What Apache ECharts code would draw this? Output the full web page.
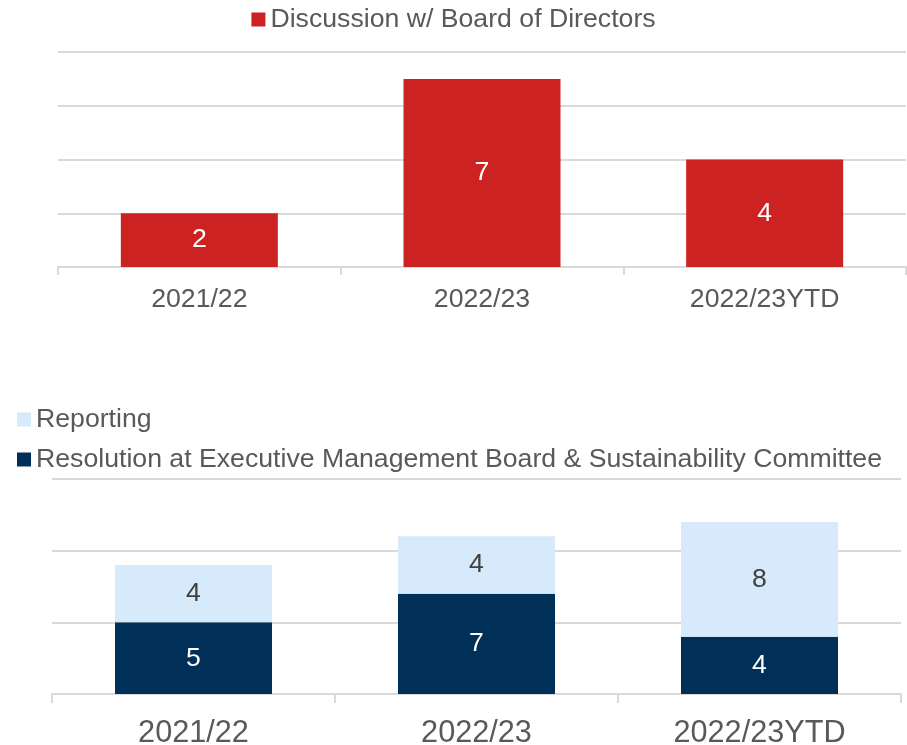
<!DOCTYPE html>
<html>
<head>
<meta charset="utf-8">
<script src="https://cdn.jsdelivr.net/npm/echarts@6/dist/echarts.min.js"></script>
<style>
  html, body { margin: 0; padding: 0; background: #fff; }
  #chart { width: 907px; height: 745px; }
</style>
</head>
<body>
<div id="chart"></div>
<script>
// Categories shared by both panels
const categories = ['2021/22', '2022/23', '2022/23YTD'];

// Upper panel: discussions with the board
const boardName = 'Discussion w/ Board of Directors';
const boardValues = [2, 7, 4];

// Lower panel: stacked reporting / resolution counts
const reportingName = 'Reporting';
const reportingValues = [4, 4, 8];
const resolutionName = 'Resolution at Executive Management Board & Sustainability Committee';
const resolutionValues = [5, 7, 4];

const FONT = '"Liberation Sans", Arial, sans-serif';
const TEXT = '#595959';
const GRID = '#D9D9D9';
const FS = 26.67;

const chart = echarts.init(document.getElementById('chart'), null, { renderer: 'canvas' });

function xAxisFor(gridIndex, fontSize, tickLen, margin) {
  return {
    type: 'category',
    gridIndex: gridIndex,
    data: categories,
    axisLine: { lineStyle: { color: GRID, width: 2 } },
    axisTick: { show: true, length: tickLen, lineStyle: { color: GRID, width: 2 } },
    axisLabel: { color: TEXT, fontFamily: FONT, fontSize: fontSize, margin: margin }
  };
}

function yAxisFor(gridIndex, max, interval) {
  return {
    type: 'value',
    gridIndex: gridIndex,
    min: 0,
    max: max,
    interval: interval,
    axisLine: { show: false },
    axisTick: { show: false },
    axisLabel: { show: false },
    splitLine: { lineStyle: { color: GRID, width: 2 } }
  };
}

chart.setOption({
  animation: false,
  textStyle: { fontFamily: FONT },
  legend: [
    {
      data: [boardName],
      top: 1,
      left: 'center',
      icon: 'rect',
      itemWidth: 14,
      itemHeight: 14,
      textStyle: { color: TEXT, fontFamily: FONT, fontSize: FS }
    },
    {
      data: [reportingName, resolutionName],
      orient: 'vertical',
      top: 401,
      left: 12,
      icon: 'rect',
      itemWidth: 14,
      itemHeight: 14,
      itemGap: 13,
      textStyle: { color: TEXT, fontFamily: FONT, fontSize: FS }
    }
  ],
  grid: [
    { left: 58, right: 1, top: 52, bottom: 478, outerBoundsMode: 'none', containLabel: false },
    { left: 52, right: 6, top: 479, bottom: 51, outerBoundsMode: 'none', containLabel: false }
  ],
  xAxis: [
    xAxisFor(0, FS, 8, 19),
    xAxisFor(1, 30.67, 9, 24)
  ],
  yAxis: [
    yAxisFor(0, 8, 2),
    yAxisFor(1, 15, 5)
  ],
  series: [
    {
      name: boardName,
      type: 'bar',
      xAxisIndex: 0,
      yAxisIndex: 0,
      data: boardValues,
      barWidth: 157,
      itemStyle: { color: '#CC2222' },
      label: { show: true, position: 'inside', color: '#fff', fontFamily: FONT, fontSize: FS }
    },
    {
      name: resolutionName,
      type: 'bar',
      stack: 'lower',
      xAxisIndex: 1,
      yAxisIndex: 1,
      data: resolutionValues,
      barWidth: 157,
      itemStyle: { color: '#003057' },
      label: { show: true, position: 'inside', color: '#fff', fontFamily: FONT, fontSize: FS }
    },
    {
      name: reportingName,
      type: 'bar',
      stack: 'lower',
      xAxisIndex: 1,
      yAxisIndex: 1,
      data: reportingValues,
      barWidth: 157,
      itemStyle: { color: '#D6EAFB' },
      label: { show: true, position: 'inside', color: '#404040', fontFamily: FONT, fontSize: FS }
    }
  ]
});
</script>
</body>
</html>
